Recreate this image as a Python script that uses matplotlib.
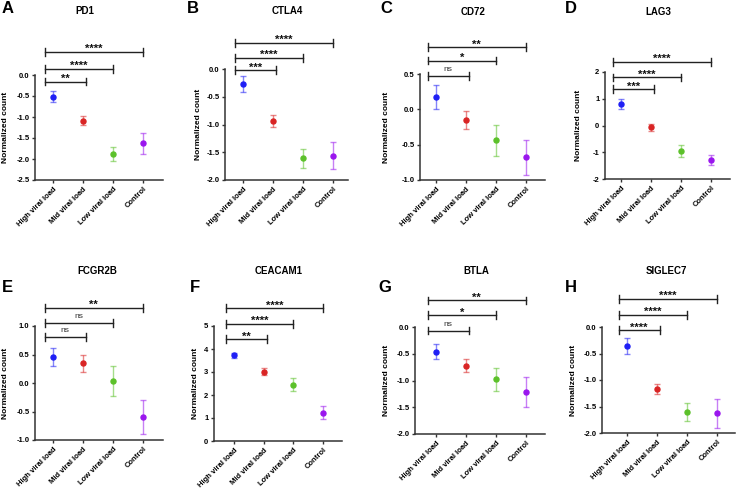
import matplotlib
matplotlib.use('Agg')
import matplotlib.pyplot as plt

plt.rcParams['font.family'] = ['Liberation Sans', 'DejaVu Sans']
plt.rcParams['font.weight'] = 'bold'

groups = ['High viral load', 'Mid viral load', 'Low viral load', 'Control']
colors = ['#1f1ff5', '#d92424', '#5cc12a', '#9a16ee']

genes = ['PD1', 'CTLA4', 'CD72', 'LAG3', 'FCGR2B', 'CEACAM1', 'BTLA', 'SIGLEC7']
letters = ['A', 'B', 'C', 'D', 'E', 'F', 'G', 'H']

means = {
    'PD1': [-0.52, -1.09, -1.88, -1.63],
    'CTLA4': [-0.27, -0.93, -1.61, -1.56],
    'CD72': [0.18, -0.15, -0.44, -0.68],
    'LAG3': [0.79, -0.06, -0.95, -1.29],
    'FCGR2B': [0.45, 0.35, 0.04, -0.60],
    'CEACAM1': [3.72, 3.01, 2.45, 1.23],
    'BTLA': [-0.46, -0.72, -0.98, -1.22],
    'SIGLEC7': [-0.35, -1.17, -1.60, -1.63],
}
sems = {
    'PD1': [0.13, 0.11, 0.17, 0.25],
    'CTLA4': [0.14, 0.11, 0.17, 0.25],
    'CD72': [0.17, 0.13, 0.22, 0.25],
    'LAG3': [0.19, 0.13, 0.21, 0.20],
    'FCGR2B': [0.16, 0.15, 0.26, 0.30],
    'CEACAM1': [0.12, 0.15, 0.28, 0.29],
    'BTLA': [0.14, 0.12, 0.22, 0.28],
    'SIGLEC7': [0.15, 0.10, 0.17, 0.27],
}
# significance: High vs Mid, High vs Low, High vs Control
sig = {
    'PD1': ['**', '****', '****'],
    'CTLA4': ['***', '****', '****'],
    'CD72': ['ns', '*', '**'],
    'LAG3': ['***', '****', '****'],
    'FCGR2B': ['ns', 'ns', '**'],
    'CEACAM1': ['**', '****', '****'],
    'BTLA': ['ns', '*', '**'],
    'SIGLEC7': ['****', '****', '****'],
}
bracket_y = {
    'PD1': [-0.16, 0.14, 0.55],
    'CTLA4': [-0.02, 0.20, 0.47],
    'CD72': [0.47, 0.69, 0.88],
    'LAG3': [1.36, 1.80, 2.38],
    'FCGR2B': [0.81, 1.05, 1.32],
    'CEACAM1': [4.43, 5.10, 5.78],
    'BTLA': [-0.07, 0.22, 0.50],
    'SIGLEC7': [-0.06, 0.23, 0.53],
}
yticks = {
    'PD1': [0.0, -0.5, -1.0, -1.5, -2.0, -2.5],
    'CTLA4': [0.0, -0.5, -1.0, -1.5, -2.0],
    'CD72': [0.5, 0.0, -0.5, -1.0],
    'LAG3': [2, 1, 0, -1, -2],
    'FCGR2B': [1.0, 0.5, 0.0, -0.5, -1.0],
    'CEACAM1': [0, 1, 2, 3, 4, 5],
    'BTLA': [0.0, -0.5, -1.0, -1.5, -2.0],
    'SIGLEC7': [0.0, -0.5, -1.0, -1.5, -2.0],
}

# layout in pixels: axes (left, right, top, bottom), xlim, ylabel x, title (x, y), letter (x, y)
W, H = 738, 492
layout = [
    ((35, 163, 75, 180), (-0.6, 3.67), 5, (85, 6), (2, 1)),
    ((225, 348, 69, 180), (-0.6, 3.5), 198, (287, 6), (187, 1)),
    ((420, 545, 74, 180), (-0.53, 3.63), 386, (473, 7), (380, 1)),
    ((605, 730, 72, 179), (-0.53, 3.63), 578, (658, 7), (565, 1)),
    ((35, 163, 326, 440), (-0.6, 3.67), 5, (97, 266), (2, 280)),
    ((214, 342, 326, 441), (-0.67, 3.63), 195, (279, 266), (190, 280)),
    ((415, 545, 327, 434), (-0.7, 3.63), 386, (476, 266), (378, 280)),
    ((602, 735, 327, 433), (-0.83, 3.6), 573, (666, 266), (565, 280)),
]

fig = plt.figure(figsize=(W / 100, H / 100), dpi=100)
x = list(range(len(groups)))

for gene, letter, (box, xlim, ylx, tpos, lpos) in zip(genes, letters, layout):
    l, r, t, b = box
    ax = fig.add_axes([l / W, 1 - b / H, (r - l) / W, (b - t) / H])
    for i in x:
        ax.errorbar(i, means[gene][i], yerr=sems[gene][i], fmt='none',
                    ecolor=colors[i], alpha=0.55, elinewidth=1.0, capsize=2, capthick=1.0)
        ax.plot(i, means[gene][i], 'o', color=colors[i], markersize=3.6, zorder=3)
    ax.set_xlim(*xlim)
    ax.set_ylim(min(yticks[gene]), max(yticks[gene]))
    ax.set_yticks(yticks[gene])
    ax.set_yticklabels([f'{v:.1f}' if isinstance(v, float) else str(v) for v in yticks[gene]],
                       fontsize=5.5, fontweight='bold')
    ax.set_xticks(x)
    ax.set_xticklabels(groups, rotation=45, ha='right', rotation_mode='anchor',
                       fontsize=5.5, fontweight='bold')
    for s in ['top', 'right']:
        ax.spines[s].set_visible(False)
    for s in ['left', 'bottom']:
        ax.spines[s].set_linewidth(1.1)
        ax.spines[s].set_color('#333333')
    ax.tick_params(length=2.5, width=1.0, color='#333333', pad=1.5)
    ax.set_ylabel('Normalized count', fontsize=6, fontweight='bold', va='center')
    ax.yaxis.set_label_coords((ylx + 0.5 - l) / (r - l), 0.5)

    # significance brackets
    ends = [1.1, 2.0, 3.0]
    ylo, yhi = ax.get_ylim()
    cap = (yhi - ylo) * 0.035
    for end, yb, lab in zip(ends, bracket_y[gene], sig[gene]):
        ax.plot([-0.28, end], [yb, yb], color='#222222', lw=1.0, clip_on=False)
        for xe in (-0.28, end):
            ax.plot([xe, xe], [yb - cap, yb + cap], color='#222222', lw=1.0, clip_on=False)
        xm = (-0.28 + end) / 2
        if lab == 'ns':
            ax.text(xm, yb + cap * 0.8, lab, ha='center', va='bottom', fontsize=6,
                    fontweight='normal', color='#333333', clip_on=False)
        else:
            ax.text(xm, yb - cap * 0.6, lab, ha='center', va='bottom', fontsize=8,
                    fontweight='bold', color='#111111', clip_on=False)

    fig.text(tpos[0] / W, 1 - tpos[1] / H, gene, ha='center', va='top',
             fontsize=7, fontweight='bold')
    fig.text(lpos[0] / W, 1 - lpos[1] / H, letter, ha='left', va='top',
             fontsize=12, fontweight='bold')

fig.savefig('out.png', dpi=100)
